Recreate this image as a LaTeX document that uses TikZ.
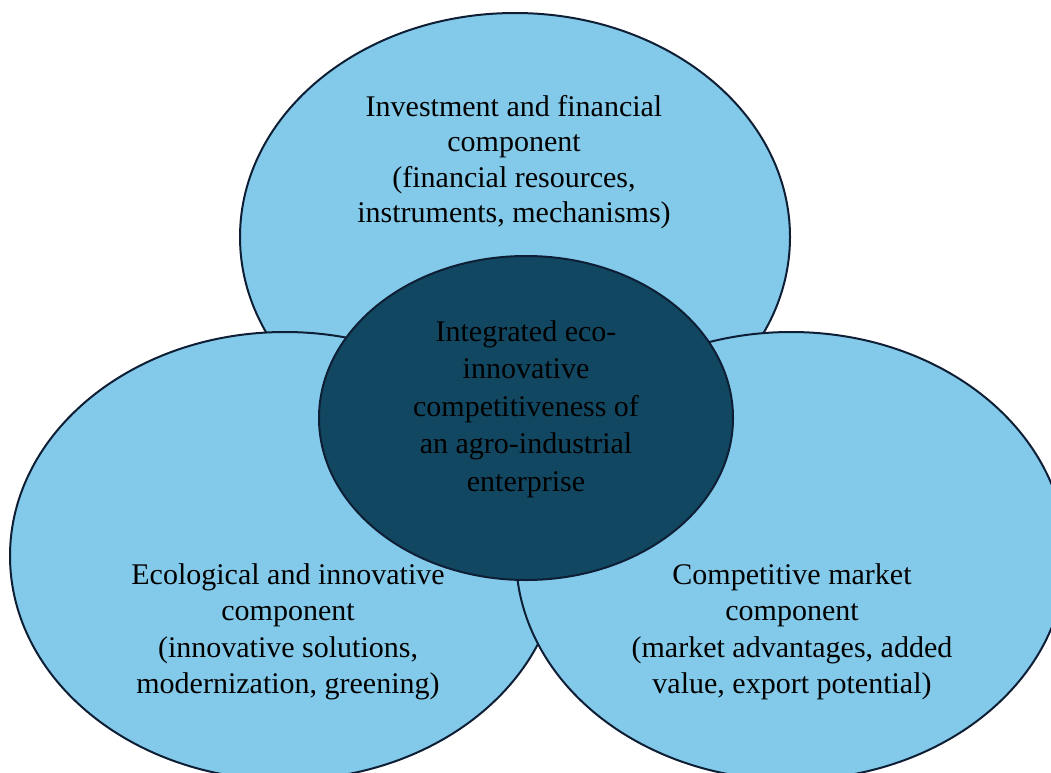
\documentclass[tikz,border=0pt]{standalone}
\usepackage{fontspec}
\setmainfont{Liberation Serif}
\usetikzlibrary{shapes.geometric}
\definecolor{lightb}{HTML}{83CAEA}
\definecolor{darkb}{HTML}{124762}
\definecolor{edge}{HTML}{0E1F35}
\tikzset{
  outer/.style={ellipse, draw=edge, line width=2pt, fill=lightb, inner sep=0pt, minimum width=550pt, minimum height=448pt},
  inner/.style={ellipse, draw=edge, line width=2pt, fill=darkb, inner sep=0pt, minimum width=414pt, minimum height=324pt},
  lbl/.style={align=center, text=black, inner sep=0pt, font=\fontsize{30}{35.5}\selectfont}
}
\begin{document}
\begin{tikzpicture}[x=1pt,y=-1pt]
\useasboundingbox[fill=white] (0,0) rectangle (1051,772);
\node[outer] (top) at (515,237) {};
\node[outer] (left) at (285,556) {};
\node[outer] (right) at (791,556) {};
\node[inner] (center) at (526,418) {};
\node[lbl] (ttop) at (514,162) {Investment and financial\\component\\(financial resources,\\instruments, mechanisms)};
\node[lbl, font=\fontsize{30}{36.5}\selectfont] (tleft) at (288,632) {Ecological and innovative\\component\\(innovative solutions,\\modernization, greening)};
\node[lbl, font=\fontsize{30}{36.5}\selectfont] (tright) at (792,632) {Competitive market\\component\\(market advantages, added\\value, export potential)};
\node[lbl, font=\fontsize{30}{37.5}\selectfont] (tcenter) at (526,409) {Integrated eco-\\innovative\\competitiveness of\\an agro-industrial\\enterprise};
\end{tikzpicture}
\end{document}
